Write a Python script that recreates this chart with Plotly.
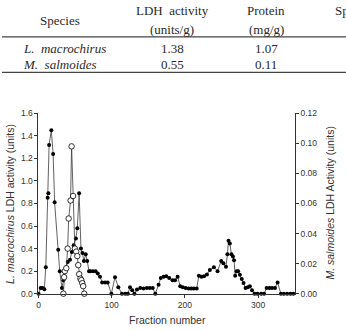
import plotly.graph_objects as go

# ---- table data ----
tbl_headers = ["Species", "LDH  activity", "Protein", "Sp"]
tbl_units = ["", "(units/g)", "(mg/g)", ""]
tbl_species = ["L.  macrochirus", "M.  salmoides"]
tbl_ldh = ["1.38", "0.55"]
tbl_protein = ["1.07", "0.11"]

# ---- chart data ----
# L. macrochirus (filled circles, left axis)
fr_L = [0, 3, 5.5, 8, 10, 12.5, 13.5, 14.5, 17.5, 20,
        22, 27, 29, 32, 34, 37.5, 40, 43, 45.5, 48,
        51, 53, 55.5, 58, 60, 62, 64.5, 66.5, 69, 71,
        74.5, 78, 81, 84, 87, 91, 94.5, 99.5, 104.5, 109,
        114, 118.5, 122, 125, 128, 131, 134.5, 139, 143.5, 148,
        152, 156, 159.5, 164, 167, 171, 174.5, 178.5, 183, 186.5,
        190, 193.5, 197, 201, 205, 208.5, 212, 216, 219, 222.5,
        226, 230, 234, 239.5, 244.5, 249.5, 252.5, 256, 258, 259.5,
        261.3, 263.5, 265.5, 267, 268.6, 270.5, 272.6, 275, 277.6, 280,
        282.8, 285.8, 288.6, 291.6, 295, 299, 304, 308, 311.5, 315.5,
        319, 323, 326.5, 331, 335, 339.5, 344, 348]
act_L = [0.00, 0.05, 0.05, 0.04, 0.235, 0.85, 0.89, 1.32, 1.45, 1.24,
         0.81, 0.39, 0.20, 0.05, 0.12, 0.23, 0.28, 0.30, 0.37, 0.43,
         0.49, 0.58, 0.89, 0.40, 0.36, 0.29, 0.35, 0.29, 0.20, 0.20,
         0.20, 0.20, 0.18, 0.15, 0.10, 0.10, 0.10, 0.00, 0.146, 0.057,
         0.00, 0.00, 0.00, 0.057, 0.03, 0.00, 0.037, 0.05, 0.045, 0.05,
         0.05, 0.05, 0.00, 0.08, 0.14, 0.15, 0.155, 0.14, 0.12, 0.12,
         0.15, 0.066, 0.057, 0.05, 0.045, 0.045, 0.045, 0.045, 0.16, 0.15,
         0.155, 0.17, 0.21, 0.235, 0.20, 0.29, 0.27, 0.24, 0.35, 0.47,
         0.445, 0.35, 0.33, 0.296, 0.158, 0.20, 0.20, 0.167, 0.13, 0.095,
         0.05, 0.057, 0.066, 0.03, 0.00, 0.00, 0.00, 0.00, 0.05, 0.05,
         0.05, 0.05, 0.10, 0.00, 0.00, 0.00, 0.00, 0.00]

# M. salmoides (open circles, right axis)
fr_M = [34, 35, 36, 38, 39.8, 41.2, 43.8, 45.2, 47.3, 49.7,
        51.5, 53, 54.3, 55.6, 57.2, 58.5, 59.8, 61, 62.5]
act_M = [0.0, 0.011, 0.015, 0.017, 0.030, 0.050, 0.062, 0.098, 0.065, 0.030,
         0.028, 0.025, 0.019, 0.013, 0.010, 0.009, 0.007, 0.005, 0.0]

W, H = 346, 330
x0, x1 = 36.7, 294.5
ytop, ybot = 111.7, 297.7

def px(x):
    return x / W

def py(y):
    return 1 - y / H

fig = go.Figure()
fig.add_trace(go.Scatter(
    x=fr_L, y=act_L, mode="lines+markers",
    line=dict(color="#3a3a3a", width=0.8),
    marker=dict(size=4, color="black"),
    cliponaxis=False, hoverinfo="skip"))
fig.add_trace(go.Scatter(
    x=fr_M, y=act_M, yaxis="y2", mode="lines+markers",
    line=dict(color="#3a3a3a", width=0.8),
    marker=dict(size=5.5, color="white", line=dict(color="black", width=0.8)),
    cliponaxis=False, hoverinfo="skip"))

axfont = dict(family="Liberation Sans, Arial", size=8.5, color="#333")
common = dict(showgrid=False, zeroline=False, showline=True, linecolor="#333",
              linewidth=1, ticks="outside", ticklen=3, tickcolor="#333",
              tickwidth=1, tickfont=axfont)

fig.update_layout(
    width=W, height=H, margin=dict(l=0, r=0, t=0, b=0),
    paper_bgcolor="white", plot_bgcolor="white", showlegend=False,
    xaxis=dict(domain=[px(x0), px(x1)], range=[0, 350],
               tickvals=[0, 100, 200, 300], **common),
    yaxis=dict(domain=[py(ybot), py(ytop)], range=[0, 1.6],
               tick0=0, dtick=0.2, tickformat=".1f", **common),
    yaxis2=dict(overlaying="y", side="right", anchor="x", range=[0, 0.12],
                tick0=0, dtick=0.02, tickformat=".2f", **common),
)

ann = []
titlefont = dict(family="Liberation Sans, Arial", size=10.5, color="#333")
ann.append(dict(x=px(8.5), y=py((ytop + ybot) / 2), xref="paper", yref="paper",
                text="<i>L. macrochirus</i> LDH activity (units)", textangle=-90,
                showarrow=False, font=titlefont, xanchor="center", yanchor="middle"))
ann.append(dict(x=px(330), y=py((ytop + ybot) / 2), xref="paper", yref="paper",
                text="<i>M. salmoides</i> LDH Activity (units)", textangle=-90,
                showarrow=False, font=titlefont, xanchor="center", yanchor="middle"))
ann.append(dict(x=px(166), y=py(325), xref="paper", yref="paper",
                text="Fraction number", showarrow=False, font=titlefont,
                xanchor="center", yanchor="middle"))

# ---- table ----
serif = dict(family="Liberation Serif, Times New Roman", size=13, color="#2a2a2a")
col_x = [58, 171, 266]
ann.append(dict(x=px(col_x[0]), y=py(15.5), xref="paper", yref="paper",
                text=tbl_headers[0], showarrow=False, font=serif,
                xanchor="center", yanchor="middle"))
for i in (1, 2):
    ann.append(dict(x=px(col_x[i]), y=py(6), xref="paper", yref="paper",
                    text=tbl_headers[i], showarrow=False, font=serif,
                    xanchor="center", yanchor="middle"))
    ann.append(dict(x=px(col_x[i]), y=py(25), xref="paper", yref="paper",
                    text=tbl_units[i], showarrow=False, font=serif,
                    xanchor="center", yanchor="middle"))
ann.append(dict(x=px(333), y=py(6), xref="paper", yref="paper",
                text=tbl_headers[3], showarrow=False, font=serif,
                xanchor="left", yanchor="middle"))
row_y = [44.5, 61.5]
for r in range(2):
    ann.append(dict(x=px(19), y=py(row_y[r]), xref="paper", yref="paper",
                    text="<i>" + tbl_species[r] + "</i>", showarrow=False, font=serif,
                    xanchor="left", yanchor="middle"))
    ann.append(dict(x=px(col_x[1]), y=py(row_y[r]), xref="paper", yref="paper",
                    text=tbl_ldh[r], showarrow=False, font=serif,
                    xanchor="center", yanchor="middle"))
    ann.append(dict(x=px(col_x[2]), y=py(row_y[r]), xref="paper", yref="paper",
                    text=tbl_protein[r], showarrow=False, font=serif,
                    xanchor="center", yanchor="middle"))

shapes = []
for yl in (32.8, 69.5):
    shapes.append(dict(type="line", xref="paper", yref="paper",
                       x0=0, x1=1, y0=py(yl), y1=py(yl),
                       line=dict(color="#444", width=1.3)))

fig.update_layout(annotations=ann, shapes=shapes)
fig.write_html("out.html", config={"displayModeBar": False})
